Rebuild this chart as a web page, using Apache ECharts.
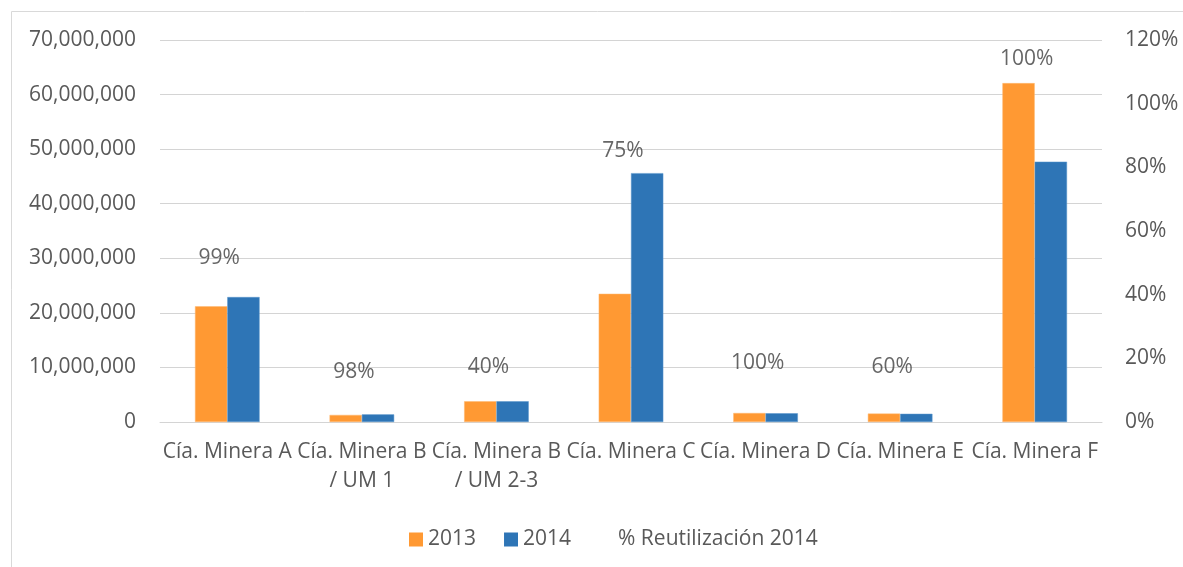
<!DOCTYPE html>
<html>
<head>
<meta charset="utf-8">
<script src="https://cdn.jsdelivr.net/npm/echarts@6/dist/echarts.min.js"></script>
<style>
  html, body { margin: 0; padding: 0; background: #fff; }
  #chart { width: 1183px; height: 567px; }
</style>
</head>
<body>
<div id="chart"></div>
<script>
// categorias
var categories = [
  "Cía. Minera A",
  "Cía. Minera B\n/ UM 1",
  "Cía. Minera B\n/ UM 2-3",
  "Cía. Minera C",
  "Cía. Minera D",
  "Cía. Minera E",
  "Cía. Minera F"
];
var values2013 = [21200000, 1300000, 3800000, 23500000, 1650000, 1550000, 62100000];
var values2014 = [22900000, 1400000, 3800000, 45600000, 1600000, 1500000, 47700000];
// % reutilizacion 2014 (solo etiquetas)
var reuse2014 = [99, 98, 40, 75, 100, 60, 100];
// altura de las etiquetas en el eje izquierdo
var labelHeight = [30000000, 9100000, 10000000, 49600000, 10900000, 10000000, 66500000];

var leftTicks = { min: 0, max: 70000000, interval: 10000000 };
var rightTicks = { min: 0, max: 120, interval: 20 };

var chart = echarts.init(document.getElementById("chart"));
var txt = "#595959";
var font = "'Open Sans', sans-serif";

chart.setOption({
  animation: false,
  textStyle: { fontFamily: font },
  graphic: [
    {
      type: "rect",
      shape: { x: 11.5, y: 11.5, width: 1400, height: 800 },
      style: { fill: "none", stroke: "#d9d9d9", lineWidth: 1 },
      silent: true
    }
  ],
  grid: { left: 160, right: 81, top: 40, bottom: 145, containLabel: false },
  legend: {
    left: 404,
    top: 524,
    itemWidth: 14,
    itemHeight: 14,
    itemGap: 28,
    itemStyle: { borderWidth: 0 },
    textStyle: { color: txt, fontSize: 21, fontFamily: font },
    data: [
      { name: "2013", icon: "rect" },
      { name: "2014", icon: "rect" },
      { name: "% Reutilización 2014", icon: "rect", itemStyle: { opacity: 0 } }
    ]
  },
  xAxis: {
    type: "category",
    data: categories,
    axisLine: { lineStyle: { color: "#d4d4d4" } },
    axisTick: { show: false },
    axisLabel: {
      interval: 0,
      color: txt,
      fontSize: 21,
      lineHeight: 29,
      margin: 16,
      fontFamily: font
    }
  },
  yAxis: [
    {
      type: "value",
      min: leftTicks.min,
      max: leftTicks.max,
      interval: leftTicks.interval,
      axisLine: { show: false },
      axisTick: { show: false },
      splitLine: { lineStyle: { color: "#d4d4d4", width: 1 } },
      axisLabel: {
        color: txt,
        fontSize: 21,
        margin: 24,
        fontFamily: font,
        formatter: function (v) {
          return v.toString().replace(/\B(?=(\d{3})+(?!\d))/g, ",");
        }
      }
    },
    {
      type: "value",
      min: rightTicks.min,
      max: rightTicks.max,
      interval: rightTicks.interval,
      position: "right",
      axisLine: { show: false },
      axisTick: { show: false },
      splitLine: { show: false },
      axisLabel: {
        color: txt,
        fontSize: 21,
        margin: 23,
        fontFamily: font,
        formatter: "{value}%"
      }
    }
  ],
  series: [
    {
      name: "2013",
      type: "bar",
      data: values2013,
      barGap: "0%",
      barCategoryGap: "52%",
      itemStyle: { color: "#FF9933", borderColor: "#FFB870", borderWidth: 0.5 }
    },
    {
      name: "2014",
      type: "bar",
      data: values2014,
      itemStyle: { color: "#2E75B6", borderColor: "#5B96CC", borderWidth: 0.5 }
    },
    {
      name: "% Reutilización 2014",
      type: "scatter",
      data: labelHeight,
      symbolSize: 1,
      itemStyle: { color: "rgba(0,0,0,0)" },
      label: {
        show: true,
        position: "inside",
        offset: [-8, 0],
        color: "#404040",
        fontSize: 21,
        fontFamily: font,
        formatter: function (p) {
          return reuse2014[p.dataIndex] + "%";
        }
      }
    }
  ]
});
</script>
</body>
</html>
